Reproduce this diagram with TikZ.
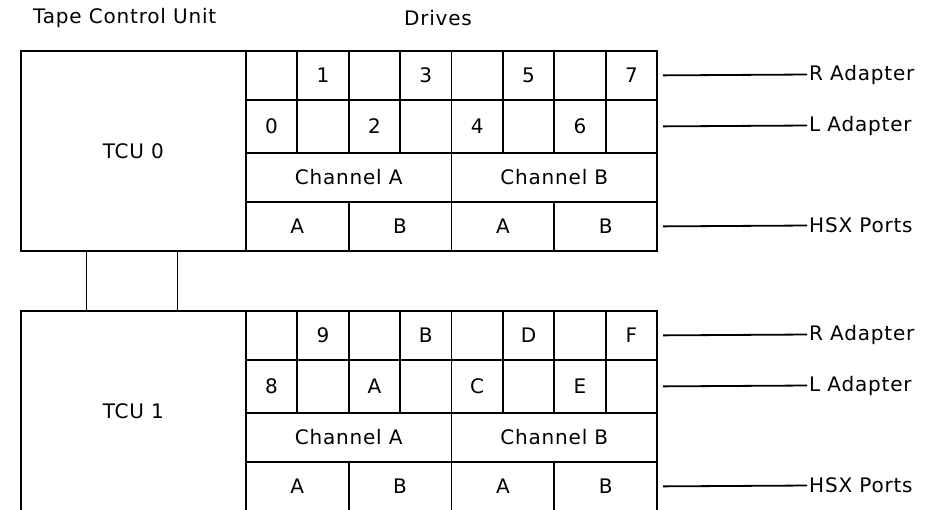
\documentclass[tikz,border=0pt]{standalone}
\usepackage{fontspec}
\setmainfont{DejaVu Sans}[LetterSpace=4]
\usetikzlibrary{positioning}

\begin{document}
\begin{tikzpicture}[x=1pt, y=-1pt,
  every node/.style={font=\fontsize{20}{24}\selectfont},
  unit/.style={draw, line width=1.8pt, anchor=north west, inner sep=0pt, minimum width=225pt, minimum height=200pt},
  cell/.style={draw, line width=1.8pt, anchor=north west, inner sep=0pt, minimum width=51.4pt},
  lbl/.style={anchor=west, inner sep=0pt},
  link/.style={line width=1.8pt, shorten <=5pt, shorten >=2pt}
]
  \useasboundingbox (0,0) rectangle (932,509);

  \node[lbl] (title) at (33,18) {Tape Control Unit};
  \node (drives) at (438,18) {Drives};

  % TCU 0
  \node[unit] (tcu0) at (20,50) {TCU 0};
  \foreach \i/\d in {0/{},1/1,2/{},3/3,4/{},5/5,6/{},7/7}
    \node[cell, minimum height=49pt] (ra0-\i) at (245+51.4*\i,50) {\d};
  \foreach \i/\d in {0/0,1/{},2/2,3/{},4/4,5/{},6/6,7/{}}
    \node[cell, minimum height=53pt] (la0-\i) at (245+51.4*\i,99) {\d};
  \node[cell, minimum width=205.6pt, minimum height=49pt] (cha0) at (245,152) {Channel A};
  \node[cell, minimum width=205.6pt, minimum height=49pt] (chb0) at (450.6,152) {Channel B};
  \foreach \i/\d in {0/A,1/B,2/A,3/B}
    \node[cell, minimum width=102.8pt, minimum height=49pt] (hsx0-\i) at (245+102.8*\i,201) {\d};

  % TCU 1
  \node[unit] (tcu1) at (20,310) {TCU 1};
  \foreach \i/\d in {0/{},1/9,2/{},3/B,4/{},5/D,6/{},7/F}
    \node[cell, minimum height=49pt] (ra1-\i) at (245+51.4*\i,310) {\d};
  \foreach \i/\d in {0/8,1/{},2/A,3/{},4/C,5/{},6/E,7/{}}
    \node[cell, minimum height=53pt] (la1-\i) at (245+51.4*\i,359) {\d};
  \node[cell, minimum width=205.6pt, minimum height=49pt] (cha1) at (245,412) {Channel A};
  \node[cell, minimum width=205.6pt, minimum height=49pt] (chb1) at (450.6,412) {Channel B};
  \foreach \i/\d in {0/A,1/B,2/A,3/B}
    \node[cell, minimum width=102.8pt, minimum height=49pt] (hsx1-\i) at (245+102.8*\i,461) {\d};

  \node[unit, minimum width=91pt, minimum height=60pt] (bus) at (85.5,250) {};

  \node[lbl] (radp0) at (809,74.5) {R Adapter};
  \node[lbl] (ladp0) at (809,125.5) {L Adapter};
  \node[lbl] (hsxp0) at (809,225.5) {HSX Ports};
  \node[lbl] (radp1) at (809,334.5) {R Adapter};
  \node[lbl] (ladp1) at (809,385.5) {L Adapter};
  \node[lbl] (hsxp1) at (809,485.5) {HSX Ports};

  \draw[link] (ra0-7.east) -- (radp0.west);
  \draw[link] (la0-7.east) -- (ladp0.west);
  \draw[link] (hsx0-3.east) -- (hsxp0.west);
  \draw[link] (ra1-7.east) -- (radp1.west);
  \draw[link] (la1-7.east) -- (ladp1.west);
  \draw[link] (hsx1-3.east) -- (hsxp1.west);
\end{tikzpicture}
\end{document}
